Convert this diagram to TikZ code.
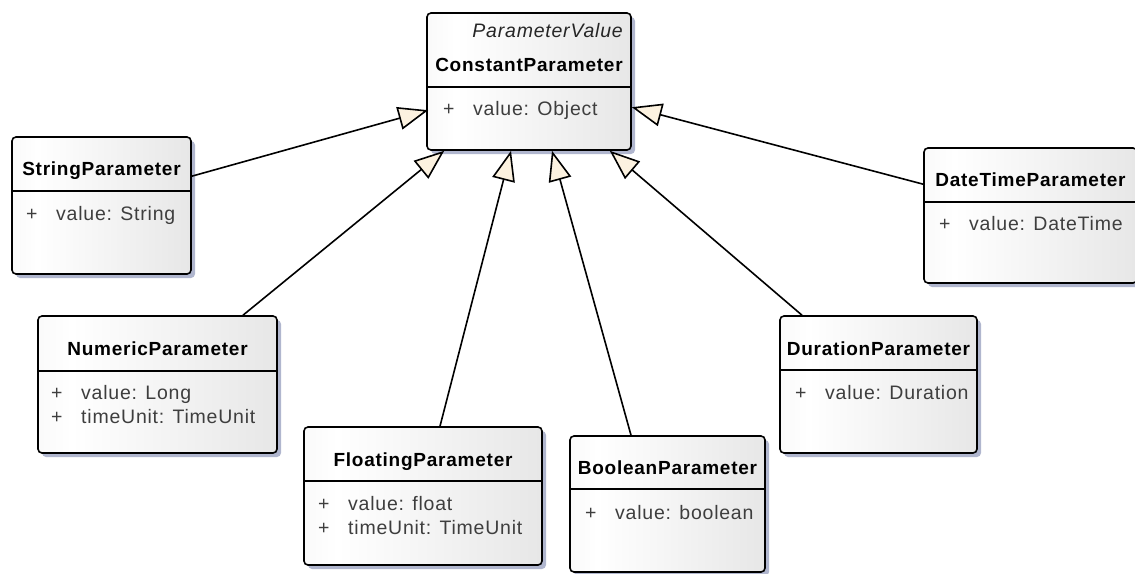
\documentclass[tikz,border=0pt]{standalone}
\usepackage{fontspec}
\setmainfont{Liberation Sans}
\newfontfamily\umlfont[LetterSpace=4]{Liberation Sans}
\usetikzlibrary{arrows.meta,shadows}

\definecolor{umlshadow}{RGB}{176,182,206}
\definecolor{umlcream}{RGB}{252,242,224}
\definecolor{umlattr}{RGB}{62,62,62}
\pgfdeclarehorizontalshading{umlfill}{100bp}{color(0bp)=(black!9); color(22bp)=(black!3); color(32bp)=(white); color(100bp)=(black!15)}

\tikzset{
  classbox/.style={draw, line width=1.6pt, rounded corners=4pt, shade, shading=umlfill,
    drop shadow={shadow xshift=4pt, shadow yshift=-4pt, fill=umlshadow, opacity=1},
    inner sep=0pt},
  divider/.style={line width=1.5pt},
  clsname/.style={anchor=base, inner sep=0pt, font=\umlfont\fontsize{19}{20}\selectfont\bfseries},
  stereo/.style={anchor=base east, inner sep=0pt, text=black!85, font=\umlfont\fontsize{19.5}{20}\selectfont\itshape},
  attr/.style={anchor=base west, inner sep=0pt, text=umlattr, font=\umlfont\fontsize{19.5}{20}\selectfont},
  generalize/.style={line width=1.6pt, -{Triangle[length=30pt,width=23pt,fill=umlcream,line width=1.6pt]}}
}
\newcommand{\attrline}[2]{\makebox[30pt][l]{#1}#2}

\begin{document}
\begin{tikzpicture}[x=1pt,y=-1pt]
  \useasboundingbox (0,0) rectangle (1135,573);

  % class boxes
  \node[classbox, minimum width=204pt, minimum height=137pt] (const) at (529,81.5) {};
  \node[classbox, minimum width=179pt, minimum height=137pt] (string) at (101.5,205.5) {};
  \node[classbox, minimum width=239pt, minimum height=137pt] (numeric) at (157.5,384.5) {};
  \node[classbox, minimum width=238pt, minimum height=138pt] (floating) at (423,496) {};
  \node[classbox, minimum width=195pt, minimum height=136pt] (boolean) at (667.5,504) {};
  \node[classbox, minimum width=197pt, minimum height=137pt] (duration) at (878.5,384.5) {};
  \node[classbox, minimum width=213pt, minimum height=135pt] (datetime) at (1030.5,215.5) {};

  % compartments
  \draw[divider] (const.west |- 0,87) -- (const.east |- 0,87);
  \draw[divider] (string.west |- 0,191) -- (string.east |- 0,191);
  \draw[divider] (numeric.west |- 0,371) -- (numeric.east |- 0,371);
  \draw[divider] (floating.west |- 0,481) -- (floating.east |- 0,481);
  \draw[divider] (boolean.west |- 0,489) -- (boolean.east |- 0,489);
  \draw[divider] (duration.west |- 0,370) -- (duration.east |- 0,370);
  \draw[divider] (datetime.west |- 0,202) -- (datetime.east |- 0,202);

  % names
  \node[stereo] (conststereo) at (623,37.5) {ParameterValue};
  \node[clsname] (constname) at (529,71) {ConstantParameter};
  \node[clsname] (stringname) at (101.5,175) {StringParameter};
  \node[clsname] (numericname) at (157.5,355) {NumericParameter};
  \node[clsname] (floatingname) at (423,466.5) {FloatingParameter};
  \node[clsname] (booleanname) at (667.5,474) {BooleanParameter};
  \node[clsname] (durationname) at (878.5,355) {DurationParameter};
  \node[clsname] (datetimename) at (1030.5,186.5) {DateTimeParameter};

  % attributes
  \node[attr] (constvalue) at (443,115) {\attrline{+}{value: Object}};
  \node[attr] (stringvalue) at (26,220.5) {\attrline{+}{value: String}};
  \node[attr] (numericvalue) at (51,399) {\attrline{+}{value: Long}};
  \node[attr] (numericunit) at (51,423) {\attrline{+}{timeUnit: TimeUnit}};
  \node[attr] (floatingvalue) at (318,510.5) {\attrline{+}{value: float}};
  \node[attr] (floatingunit) at (318,534.5) {\attrline{+}{timeUnit: TimeUnit}};
  \node[attr] (booleanvalue) at (585,519) {\attrline{+}{value: boolean}};
  \node[attr] (durationvalue) at (795,399) {\attrline{+}{value: Duration}};
  \node[attr] (datetimevalue) at (939,230.5) {\attrline{+}{value: DateTime}};

  % generalizations
  \draw[generalize] ([yshift=-40pt]string.north east) -- ([xshift=2pt,yshift=-98pt]const.north west);
  \draw[generalize] ([xshift=85.5pt]numeric.north) -- ([xshift=18pt]const.south west);
  \draw[generalize] ([xshift=17pt]floating.north) -- ([xshift=-18pt]const.south);
  \draw[generalize] ([xshift=-36.5pt]boolean.north) -- ([xshift=23pt]const.south);
  \draw[generalize] ([xshift=-76.5pt]duration.north) -- ([xshift=-22pt]const.south east);
  \draw[generalize] ([yshift=-37pt]datetime.north west) -- ([yshift=-95pt]const.north east);
\end{tikzpicture}
\end{document}
